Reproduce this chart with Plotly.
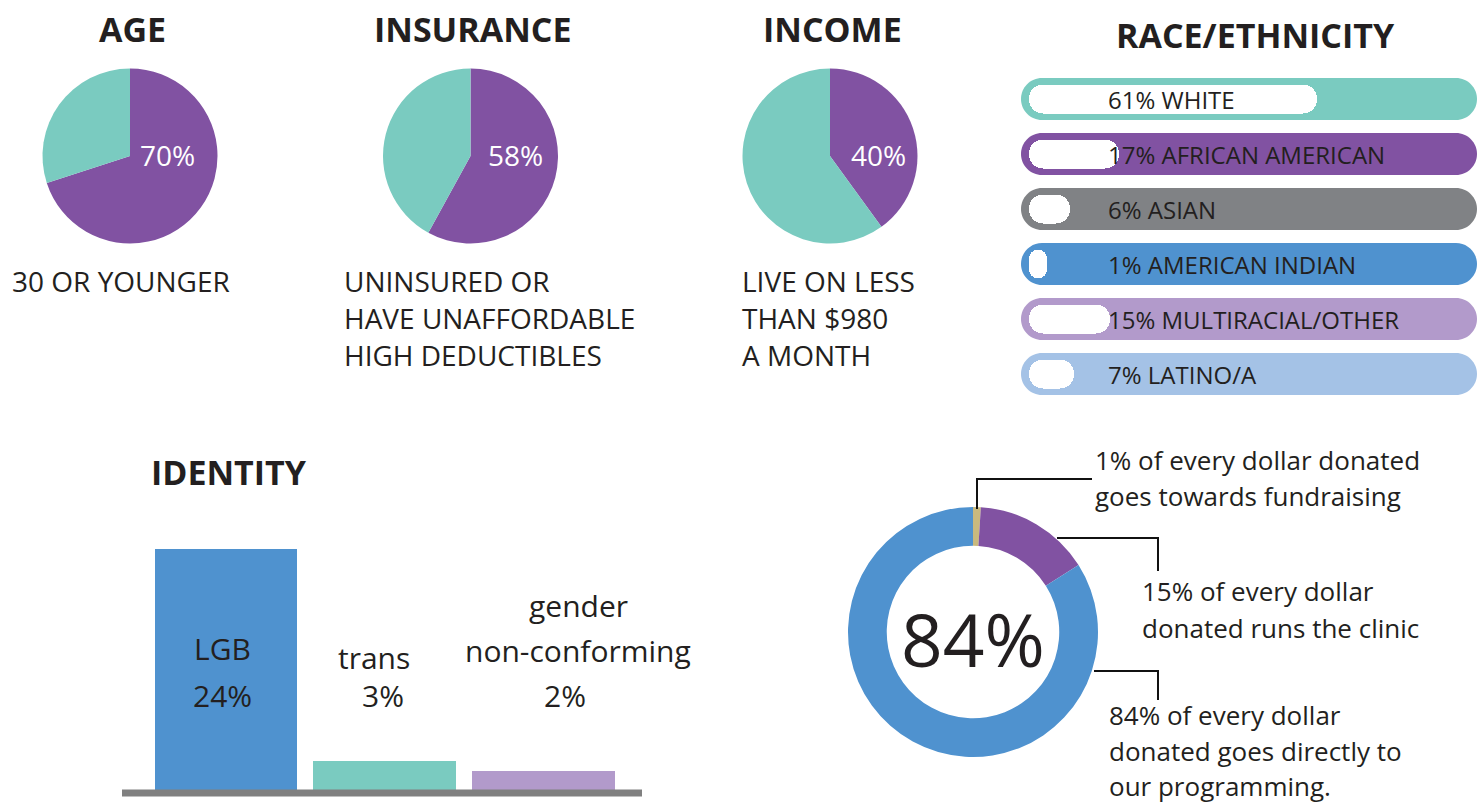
import plotly.graph_objects as go

W, H = 1479, 806

# ---------------- data ----------------
pie_titles = ["AGE", "INSURANCE", "INCOME"]
pie_values = [70, 58, 40]
pie_captions = [
    ["30 OR YOUNGER"],
    ["UNINSURED OR", "HAVE UNAFFORDABLE", "HIGH DEDUCTIBLES"],
    ["LIVE ON LESS", "THAN $980", "A MONTH"],
]

race_title = "RACE/ETHNICITY"
race_labels = ["WHITE", "AFRICAN AMERICAN", "ASIAN", "AMERICAN INDIAN",
               "MULTIRACIAL/OTHER", "LATINO/A"]
race_values = [61, 17, 6, 1, 15, 7]
race_colors = ["#7ACBC0", "#8152A2", "#808285", "#4F92CF", "#B29ACB", "#A4C2E6"]

identity_title = "IDENTITY"
identity_labels = [["LGB"], ["trans"], ["gender", "non-conforming"]]
identity_values = [24, 3, 2]
identity_colors = ["#4F92CF", "#7ACBC0", "#B29ACB"]

donation_labels = ["fundraising", "clinic", "programming"]
donation_values = [1, 15, 84]
donation_colors = ["#C9B97E", "#8152A2", "#4F92CF"]
donation_notes = [
    ["1% of every dollar donated", "goes towards fundraising"],
    ["15% of every dollar", "donated runs the clinic"],
    ["84% of every dollar", "donated goes directly to", "our programming."],
]

PURPLE, TEAL = "#8152A2", "#7ACBC0"
TXT = "#231F20"
FONT = "Open Sans"


def px(x):
    return x / W


def py(y):
    return 1 - y / H


fig = go.Figure()
annotations = []
shapes = []


def note(text, x, y, size, anchor="left", color=TXT, weight=400):
    annotations.append(dict(
        text=text, x=px(x), y=py(y), xref="paper", yref="paper",
        xanchor=anchor, yanchor="middle", showarrow=False,
        font=dict(family=FONT, size=size, color=color, weight=weight)))


# ---------------- three pies ----------------
pie_cx = [130, 470.5, 830]
pie_cy, pie_r = 156, 87.5
pct_pos = [(167, 155), (515, 155), (878, 155)]
cap_left = [10, 342, 740]
cap_lines_y = [281, 318, 355]
for i, v in enumerate(pie_values):
    cx = pie_cx[i]
    fig.add_trace(go.Pie(
        values=[v, 100 - v], labels=["yes", "no"],
        marker=dict(colors=[PURPLE, TEAL], line=dict(width=0)),
        sort=False, direction="clockwise", rotation=0,
        textinfo="none", hoverinfo="skip", showlegend=False,
        domain=dict(x=[px(cx - pie_r), px(cx + pie_r)],
                    y=[py(pie_cy + pie_r), py(pie_cy - pie_r)])))
    note(f"<b>{pie_titles[i]}</b>", cx + 2, 29, 34, "center", TXT, 700)
    note(f"{v}%", pct_pos[i][0], pct_pos[i][1], 28, "center", "white")
    for j, line in enumerate(pie_captions[i]):
        note(line, cap_left[i], cap_lines_y[j], 28, "left")

# ---------------- race / ethnicity ----------------
note(f"<b>{race_title}</b>", 1255, 35, 34, "center", TXT, 700)
row_y0, row_step, pill_h = 99, 55, 42
pill_x0, pill_x1 = 1021, 1477
K = 0.5523


def pill_path(x0, x1, yc, h):
    r = h / 2
    k = K * r
    pts = [
        ("M", [(x0 + r, yc - r)]),
        ("L", [(x1 - r, yc - r)]),
        ("C", [(x1 - r + k, yc - r), (x1, yc - k), (x1, yc)]),
        ("C", [(x1, yc + k), (x1 - r + k, yc + r), (x1 - r, yc + r)]),
        ("L", [(x0 + r, yc + r)]),
        ("C", [(x0 + r - k, yc + r), (x0, yc + k), (x0, yc)]),
        ("C", [(x0, yc - k), (x0 + r - k, yc - r), (x0 + r, yc - r)]),
    ]
    s = ""
    for cmd, ps in pts:
        s += cmd + " " + " ".join(f"{px(a):.6f},{py(b):.6f}" for a, b in ps) + " "
    return s + "Z"


for i, c in enumerate(race_colors):
    shapes.append(dict(type="path", xref="paper", yref="paper",
                       path=pill_path(pill_x0, pill_x1, row_y0 + i * row_step, pill_h),
                       fillcolor=c, line=dict(width=0), layer="below"))

CAP = 3  # rounded cap of the inner white bar, in axis units
fig.add_trace(go.Bar(
    orientation="h", y=list(range(len(race_values))),
    base=race_values, x=[-(v + CAP) for v in race_values],
    width=0.51, marker=dict(color="white", cornerradius=14, line=dict(width=0)),
    hoverinfo="skip", showlegend=False, xaxis="x", yaxis="y"))

for i, (lab, v) in enumerate(zip(race_labels, race_values)):
    annotations.append(dict(
        text=f"{v}% {lab}", x=px(1106), y=i, xref="paper", yref="y",
        xanchor="left", yanchor="middle", showarrow=False,
        font=dict(family=FONT, size=24, color=TXT)))

# ---------------- identity ----------------
note(f"<b>{identity_title}</b>", 149, 472, 34, "left", TXT, 700)
fig.add_trace(go.Bar(
    x=list(range(len(identity_values))), y=identity_values,
    marker=dict(color=identity_colors, line=dict(width=0)), width=0.9,
    hoverinfo="skip", showlegend=False, xaxis="x2", yaxis="y2"))
shapes.append(dict(type="line", xref="paper", yref="paper",
                   x0=px(122), x1=px(642), y0=py(793), y1=py(793),
                   line=dict(color="#808080", width=7)))
id_label_pos = [[(222, 648)], [(374, 657)], [(578, 605), (578, 650)]]
id_pct_pos = [(222, 695), (383, 695), (565, 695)]
for i, v in enumerate(identity_values):
    for line, (x, y) in zip(identity_labels[i], id_label_pos[i]):
        note(line, x, y, 30, "center")
    note(f"{v}%", id_pct_pos[i][0], id_pct_pos[i][1], 30, "center")

# ---------------- donation donut ----------------
dcx, dcy, dr = 973, 632, 125
fig.add_trace(go.Pie(
    values=donation_values, labels=donation_labels,
    marker=dict(colors=donation_colors, line=dict(width=0)),
    hole=0.69, sort=False, direction="clockwise", rotation=0,
    textinfo="none", hoverinfo="skip", showlegend=False,
    domain=dict(x=[px(dcx - dr), px(dcx + dr)], y=[py(dcy + dr), py(dcy - dr)])))
note(f"{donation_values[2]}%", 973, 638, 73, "center")

leaders = [
    [(977, 509), (977, 479), (1092, 479)],
    [(1057, 538), (1158, 538), (1158, 571)],
    [(1094, 671), (1158, 671), (1158, 700)],
]
for pts in leaders:
    path = "M " + " L ".join(f"{px(a):.6f},{py(b):.6f}" for a, b in pts)
    shapes.append(dict(type="path", xref="paper", yref="paper", path=path,
                       line=dict(color="#111111", width=2)))

note_left = [1093, 1140, 1107]
note_ys = [[460, 496], [591, 628], [715, 751, 786]]
for i, lines in enumerate(donation_notes):
    for line, y in zip(lines, note_ys[i]):
        note(line, note_left[i], y, 26, "left")

# ---------------- layout ----------------
fig.update_layout(
    width=W, height=H, margin=dict(l=0, r=0, t=0, b=0),
    paper_bgcolor="white", plot_bgcolor="rgba(0,0,0,0)",
    showlegend=False, bargap=0,
    xaxis=dict(domain=[px(1029), 1], range=[-CAP, 97], visible=False,
               fixedrange=True, anchor="y"),
    yaxis=dict(domain=[py(401.5), py(71.5)], range=[5.5, -0.5], visible=False,
               fixedrange=True, anchor="x"),
    xaxis2=dict(domain=[px(125), px(642)], range=[-0.636, 2.62], visible=False,
                fixedrange=True, anchor="y2"),
    yaxis2=dict(domain=[0, py(526)], range=[-1.485, 26.24], visible=False,
                fixedrange=True, anchor="x2"),
    annotations=annotations, shapes=shapes,
)

fig.write_html("out.html", config={"displayModeBar": False},
               post_script="document.body.style.margin='0';")
